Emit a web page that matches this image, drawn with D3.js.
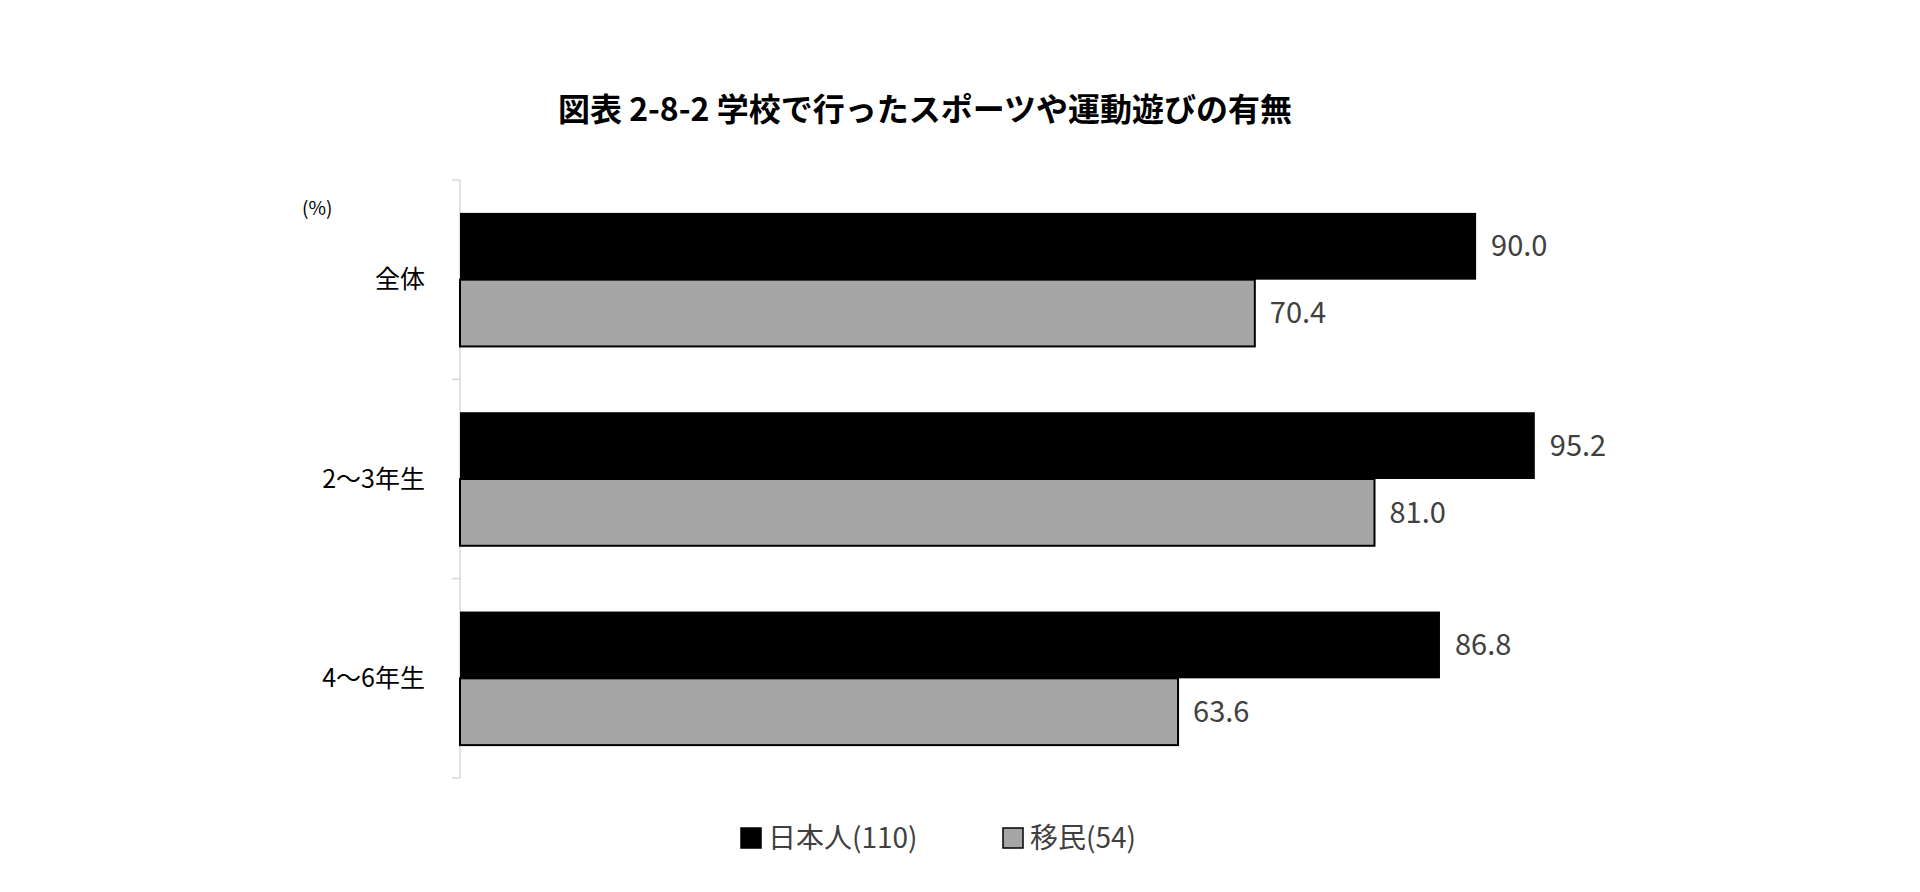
<!DOCTYPE html><html><head><meta charset="utf-8"><script src="https://cdn.jsdelivr.net/npm/d3@7"></script>
<style>body{margin:0;background:#fff}text{font-family:"Noto Sans CJK JP",sans-serif}</style></head><body><svg id="c" width="1920" height="892"></svg><script>
const categories=["全体","2～3年生","4～6年生"];
const seriesNames=["日本人(110)","移民(54)"];
const japanese=[90.0,95.2,86.8];
const immigrants=[70.4,81.0,63.6];
const colors=["#000000","#a6a6a6"];
const svg=d3.select("#c");
const x=d3.scaleLinear().domain([0,100]).range([460,1589]);
const y=d3.scaleBand().domain(categories).range([180,778]).paddingInner(0.33).paddingOuter(0.165);
const sub=d3.scaleBand().domain([0,1]).range([0,y.bandwidth()]);
svg.append("text").attr("x",925).attr("y",121).attr("text-anchor","middle").attr("font-size",32).attr("font-weight","bold").attr("fill","#000").text("図表 2-8-2  学校で行ったスポーツや運動遊びの有無");
const ax=svg.append("g");
ax.append("line").attr("x1",460).attr("x2",460).attr("y1",180).attr("y2",778).attr("stroke","#d9d9d9").attr("stroke-width",1.5);
const bounds=[180,...categories.map((c,i)=>i<categories.length-1?(y(c)+y.bandwidth()+y(categories[i+1]))/2:null).filter(v=>v),778];
bounds.forEach(b=>ax.append("line").attr("x1",452).attr("x2",460).attr("y1",b).attr("y2",b).attr("stroke","#d9d9d9").attr("stroke-width",1.5));
svg.append("text").attr("x",302).attr("y",215).attr("font-size",19).attr("fill","#000").text("(%)");
categories.forEach(c=>svg.append("text").attr("x",425).attr("y",y(c)+y.bandwidth()/2).attr("dy","0.35em").attr("text-anchor","end").attr("font-size",25).attr("fill","#000").text(c));
[japanese,immigrants].forEach((arr,s)=>{
 arr.forEach((v,i)=>{
  const yy=y(categories[i])+sub(s);
  svg.append("rect").attr("x",x(0)).attr("y",yy).attr("width",x(v)-x(0)).attr("height",sub.bandwidth()).attr("fill",colors[s]).attr("stroke","#000").attr("stroke-width",s?2:0);
  svg.append("text").attr("x",x(v)+15).attr("y",yy+sub.bandwidth()/2).attr("dy","0.35em").attr("font-size",29).attr("fill","#404040").attr("font-family","Noto Sans").text(v.toFixed(1));
 });
});
const lg=svg.append("g");
[[741,0],[1003,1]].forEach(([lx,s])=>{
 lg.append("rect").attr("x",lx).attr("y",828).attr("width",20).attr("height",20).attr("fill",colors[s]).attr("stroke","#000").attr("stroke-width",1.5);
 lg.append("text").attr("x",lx+27).attr("y",838).attr("dy","0.35em").attr("font-size",28).attr("fill","#404040").text(seriesNames[s]);
});
</script></body></html>
